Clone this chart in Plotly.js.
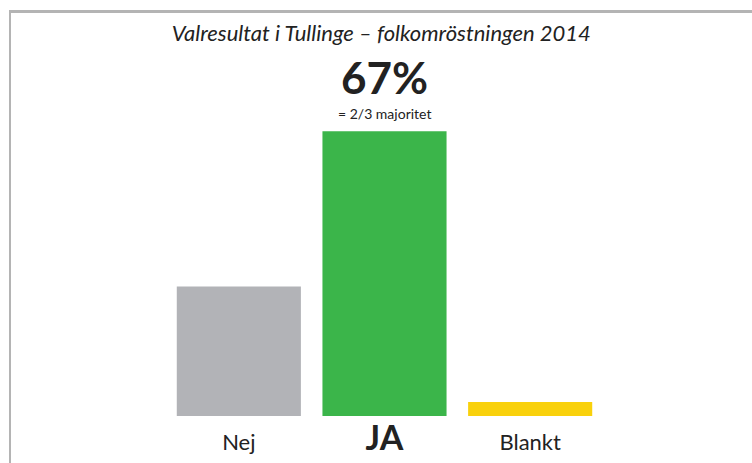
<!DOCTYPE html>
<html>
<head>
<meta charset="utf-8">
<script src="https://cdn.plot.ly/plotly-3.0.1.min.js"></script>
<style>
  body { margin: 0; background: #fff; }
  #wrap { position: relative; width: 752px; height: 463px; }
  #chart { position: absolute; left: 0; top: 0; width: 752px; height: 463px; }
  #frame { position: absolute; left: 9px; top: 10px; width: 743px; height: 453px;
           border-left: 2px solid #b4b4b4; border-top: 3px solid #b4b4b4; box-sizing: border-box;
           pointer-events: none; }
</style>
</head>
<body>
<div id="wrap">
  <div id="chart"></div>
  <div id="frame"></div>
</div>
<script>
const categories = ["Nej", "JA", "Blankt"];
const tickLabels = ["Nej", "<b><span style=\"font-size:34px\">JA</span></b>", "Blankt"];
const values = [30.5, 67, 3.3];
const colors = ["#b2b3b7", "#3bb54a", "#f9d10c"];
const highlightText = "67%";
const highlightSub = "= 2/3 majoritet";
const titleText = "<i>Valresultat i Tullinge – folkomröstningen 2014</i>";

const trace = {
  type: "bar",
  x: categories,
  y: values,
  marker: { color: colors, line: { width: 0 } },
  hoverinfo: "skip"
};

const layout = {
  width: 752, height: 463,
  margin: { l: 166, r: 149, t: 76, b: 47 },
  paper_bgcolor: "#fff", plot_bgcolor: "#fff",
  bargap: 0.148,
  showlegend: false,
  font: { family: "Lato, 'Open Sans', sans-serif", color: "#222" },
  title: { text: titleText, x: 0.507, xanchor: "center", y: 0.927, yanchor: "middle",
           font: { size: 22, color: "#222", family: "Lato, sans-serif" } },
  xaxis: {
    type: "category", range: [-0.5, 2.5],
    tickvals: categories, ticktext: tickLabels,
    tickfont: { size: 22, color: "#222" },
    showgrid: false, zeroline: false, showline: false, ticks: "", ticklabelstandoff: 11
  },
  yaxis: {
    range: [0, 80], visible: false, showgrid: false, zeroline: false
  },
  annotations: [
    { x: categories[1], y: values[1], xref: "x", yref: "y", text: "<b>" + highlightText + "</b>",
      showarrow: false, yanchor: "bottom", yshift: 26, font: { size: 44, color: "#222", family: "Lato, sans-serif" } },
    { x: categories[1], y: values[1], xref: "x", yref: "y", text: highlightSub,
      showarrow: false, yanchor: "bottom", yshift: 7, font: { size: 14, color: "#222", family: "Lato, sans-serif" } }
  ]
};

Plotly.newPlot("chart", [trace], layout, { staticPlot: true, displayModeBar: false });
</script>
</body>
</html>
